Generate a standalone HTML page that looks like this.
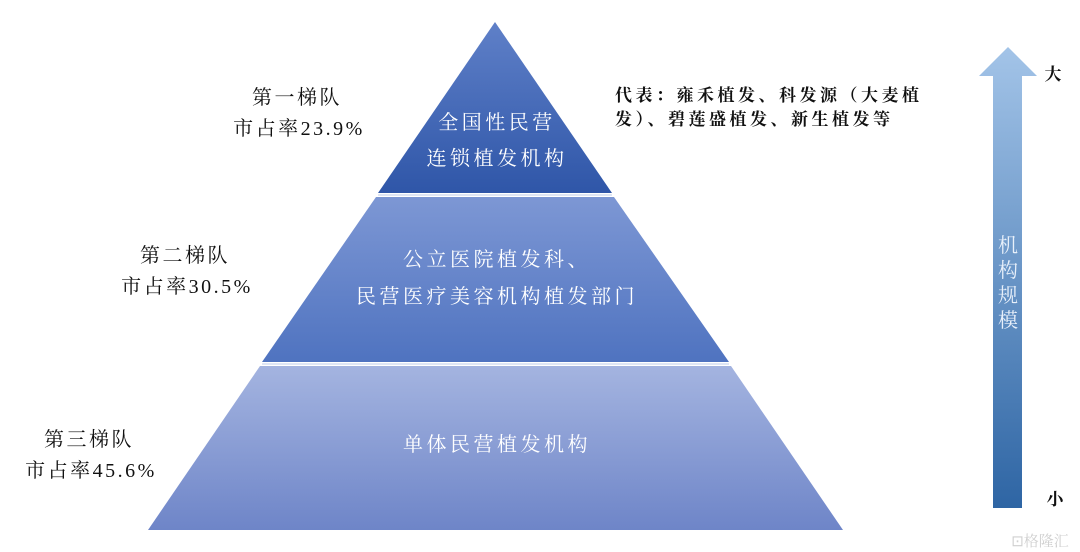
<!DOCTYPE html>
<html><head><meta charset="utf-8"><style>
html,body{margin:0;padding:0;background:#fff;}
svg{display:block}
text{font-family:"Liberation Serif","Noto Serif CJK SC",serif;}
</style></head><body>
<svg width="1080" height="552" viewBox="0 0 1080 552" xmlns="http://www.w3.org/2000/svg">
<defs>
<linearGradient id="g1" x1="0" y1="0" x2="0" y2="1"><stop offset="0" stop-color="#5f80c8"/><stop offset="1" stop-color="#2f56a8"/></linearGradient>
<linearGradient id="g2" x1="0" y1="0" x2="0" y2="1"><stop offset="0" stop-color="#7d97d4"/><stop offset="1" stop-color="#4f73c0"/></linearGradient>
<linearGradient id="g3" x1="0" y1="0" x2="0" y2="1"><stop offset="0" stop-color="#a4b4e0"/><stop offset="1" stop-color="#6e85c8"/></linearGradient>
<linearGradient id="ga" x1="0" y1="0" x2="0" y2="1"><stop offset="0" stop-color="#a3c4e8"/><stop offset="1" stop-color="#2e65a4"/></linearGradient>
</defs>
<polygon points="495,22 612,193 378,193" fill="url(#g1)"/>
<polygon points="376,197 614,197 729,362 262,362" fill="url(#g2)"/>
<polygon points="260,366 731,366 843,530 148,530" fill="url(#g3)"/>
<line x1="378" y1="195" x2="612" y2="195" stroke="#dfe6f5" stroke-width="2"/>
<line x1="262" y1="364" x2="729" y2="364" stroke="#dfe6f5" stroke-width="2"/>
<g fill="#fff" font-size="20" text-anchor="middle" letter-spacing="3.5">
<text x="497" y="129">全国性民营</text>
<text x="497" y="165">连锁植发机构</text>
<text x="497" y="266">公立医院植发科、</text>
<text x="497" y="303">民营医疗美容机构植发部门</text>
<text x="497" y="451">单体民营植发机构</text>
</g>
<g fill="#111" font-size="20" text-anchor="middle" letter-spacing="2.5">
<text x="297" y="104">第一梯队</text>
<text x="299" y="135">市占率23.9%</text>
<text x="185" y="262">第二梯队</text>
<text x="187" y="293">市占率30.5%</text>
<text x="89" y="446">第三梯队</text>
<text x="91" y="477">市占率45.6%</text>
</g>
<g fill="#111" font-size="17" font-weight="bold" letter-spacing="3.5">
<text x="615" y="101">代表：雍禾植发、科发源（大麦植</text>
<text x="615" y="125">发）、碧莲盛植发、新生植发等</text>
</g>
<polygon points="1008,47 1037,76 1022,76 1022,508 993,508 993,76 979,76" fill="url(#ga)"/>
<g fill="#e8f0fa" font-size="20" text-anchor="middle">
<text x="1008" y="252">机</text>
<text x="1008" y="277">构</text>
<text x="1008" y="302">规</text>
<text x="1008" y="327">模</text>
</g>
<text x="1053" y="80" font-size="17" fill="#111" text-anchor="middle" font-weight="bold">大</text>
<text x="1055" y="505" font-size="17" fill="#111" text-anchor="middle" font-weight="bold">小</text>
<text x="1040" y="546" font-size="15" fill="#d0d0d0" text-anchor="middle">⊡格隆汇</text>
</svg>
</body></html>
